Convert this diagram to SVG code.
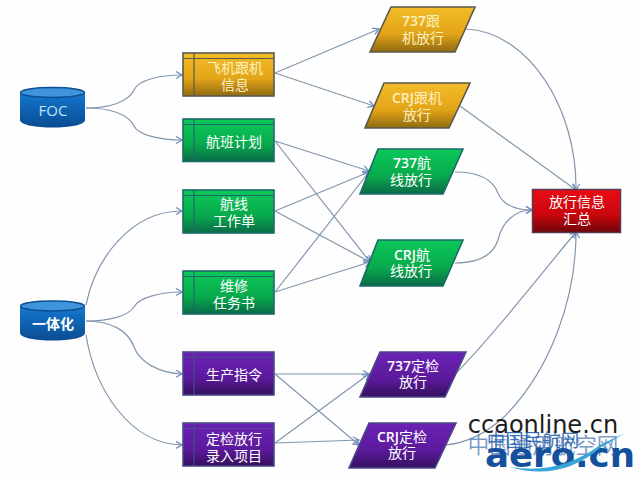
<svg xmlns="http://www.w3.org/2000/svg" width="640" height="479" viewBox="0 0 640 479">
<style>
text{font-family:"Noto Sans CJK SC","Liberation Sans",sans-serif;font-size:14px;fill:#fff;text-anchor:middle}
.lat{font-family:"Open Sans","Noto Sans CJK SC",sans-serif;font-weight:600}
.w{fill:#fdf0c0}
.c{fill:none;stroke:#8296ad;stroke-width:1.2}
.a{marker-end:url(#ar)}
.o{stroke:#5a5a4a;stroke-width:1.6}.g{stroke:#1b6b6a;stroke-width:1.6}.p{stroke:#4a4a8c;stroke-width:1.6}
.in{fill:none;stroke-width:1.2}
</style>
<defs>
<marker id="ar" markerWidth="10" markerHeight="10" refX="7" refY="4" orient="auto" markerUnits="userSpaceOnUse"><path d="M1 0.5L7 4L1 7.5" fill="none" stroke="#6f8fbd" stroke-width="1.3"/></marker>
<linearGradient id="go" x1="0" y1="0" x2="0" y2="1"><stop offset="0" stop-color="#f4bc28"/><stop offset=".6" stop-color="#e2a418"/><stop offset="1" stop-color="#8f6a10"/></linearGradient>
<linearGradient id="gg" x1="0" y1="0" x2="0" y2="1"><stop offset="0" stop-color="#0cc85a"/><stop offset=".6" stop-color="#08a94c"/><stop offset="1" stop-color="#0a6b48"/></linearGradient>
<linearGradient id="gp" x1="0" y1="0" x2="0" y2="1"><stop offset="0" stop-color="#6a22b4"/><stop offset=".6" stop-color="#5c1a9c"/><stop offset="1" stop-color="#35105e"/></linearGradient>
<linearGradient id="gr" x1="0" y1="0" x2="0" y2="1"><stop offset="0" stop-color="#ea0c14"/><stop offset=".6" stop-color="#c8060e"/><stop offset="1" stop-color="#6c0408"/></linearGradient>
<linearGradient id="gb" x1="0" y1="0" x2="0" y2="1"><stop offset="0" stop-color="#1478d0"/><stop offset="1" stop-color="#0a4c92"/></linearGradient>
</defs>
<rect width="640" height="479" fill="#fefefe"/>
<g id="connectors">
<path class="c a" d="M86 108C110 108 128 102 134 90C138 80 160 75 182 75"/>
<path class="c a" d="M86 108C110 108 128 114 134 126C138 135 160 140 182 140"/>
<path class="c a" d="M86 305C95 260 130 211 182 211"/>
<path class="c a" d="M86 321C110 321 128 316 134 307C138 298 160 292 182 292"/>
<path class="c a" d="M86 321C110 321 128 330 134 347C140 363 160 373 182 374"/>
<path class="c a" d="M86 335C95 390 130 444 182 445"/>
<path class="c a" d="M275 73L379 29"/>
<path class="c a" d="M275 73L374 106"/>
<path class="c a" d="M275 141L369 171"/>
<path class="c a" d="M275 141L370 262"/>
<path class="c a" d="M275 211L369 172"/>
<path class="c a" d="M275 211L370 262"/>
<path class="c a" d="M275 292L369 172"/>
<path class="c a" d="M275 292L370 262"/>
<path class="c a" d="M275 374L369 374"/>
<path class="c a" d="M275 374L359 445"/>
<path class="c a" d="M275 443L369 374"/>
<path class="c a" d="M275 443L359 440"/>
<path class="c a" d="M466 29C530 32 577 110 576 190"/>
<path class="c a" d="M460 106L576 190"/>
<path class="c a" d="M455 172C480 172 493 180 498 193C503 205 515 210 532 210"/>
<path class="c a" d="M455 263C480 263 493 255 498 240C502 222 515 210 532 210"/>
<path class="c a" d="M455 374C490 340 540 275 576 232"/>
<path class="c a" d="M445 445C470 443 490 430 505 416C550 370 576 300 576 232"/>
</g>
<g id="foc"><path d="M20 92V120C20 130 85 130 85 120V92Z" fill="url(#gb)"/><ellipse cx="52.500" cy="92.500" rx="32" ry="5" fill="#3f95dc" stroke="#0c4f92" stroke-width="1.500"/><text class="lat" style="font-weight:400;font-size:15px;fill:#bfe2fa" x="53" y="116">FOC</text></g>
<g id="yitihua"><path d="M20 306V333C20 343 85 343 85 333V306Z" fill="url(#gb)"/><ellipse cx="52.500" cy="306" rx="32" ry="5" fill="#3f95dc" stroke="#0c4f92" stroke-width="1.500"/><text x="53" y="329" style="font-weight:700">一体化</text></g>
<g id="n1"><rect class="o" x="183" y="53" width="91" height="43" fill="url(#go)"/><path class="in" stroke="#5a5a4a" d="M183 58.500H274M194 53V96"/><text class="w" x="235" y="73">飞机跟机</text><text class="w" x="235" y="90">信息</text></g>
<g id="n2"><rect class="g" x="183" y="119" width="91" height="42.500" fill="url(#gg)"/><path class="in" stroke="#1b6b6a" d="M183 124.500H274M194 119V161.500"/><text x="234" y="147">航班计划</text></g>
<g id="n3"><rect class="g" x="183" y="190" width="91" height="43" fill="url(#gg)"/><path class="in" stroke="#1b6b6a" d="M183 195.500H274M194 190V233"/><text x="234" y="209">航线</text><text x="234" y="226">工作单</text></g>
<g id="n4"><rect class="g" x="183" y="271" width="91" height="43" fill="url(#gg)"/><path class="in" stroke="#1b6b6a" d="M183 276.500H274M194 271V314"/><text x="234" y="291">维修</text><text x="234" y="308">任务书</text></g>
<g id="n5"><rect class="p" x="183" y="352" width="91" height="43" fill="url(#gp)"/><path class="in" stroke="#4a4a8c" d="M183 357.500H274M194 352V395"/><text x="234" y="380">生产指令</text></g>
<g id="n6"><rect class="p" x="183" y="423" width="91" height="43" fill="url(#gp)"/><path class="in" stroke="#4a4a8c" d="M183 428.500H274M194 423V466"/><text x="234" y="444">定检放行</text><text x="234" y="461">录入项目</text></g>
<g id="p1"><polygon class="o" points="391,7 475,7 455,52 370,52" fill="url(#go)"/><text class="w" x="421" y="26"><tspan class="lat">737</tspan>跟</text><text class="w" x="423" y="43">机放行</text></g>
<g id="p2"><polygon class="o" points="384,83 470,83 449,128 365,128" fill="url(#go)"/><text class="w" x="417" y="103"><tspan class="lat">CRJ</tspan>跟机</text><text class="w" x="417" y="120">放行</text></g>
<g id="p3"><polygon class="g" points="378,149 463,149 443,194 360,194" fill="url(#gg)"/><text x="412" y="168"><tspan class="lat">737</tspan>航</text><text x="411" y="185">线放行</text></g>
<g id="p4"><polygon class="g" points="378,240 463,240 443,286 360,286" fill="url(#gg)"/><text x="412" y="260"><tspan class="lat">CRJ</tspan>航</text><text x="411" y="276">线放行</text></g>
<g id="p5"><polygon class="p" points="380,352 466,352 445,397 360,397" fill="url(#gp)"/><text x="413" y="371"><tspan class="lat">737</tspan>定检</text><text x="413" y="387">放行</text></g>
<g id="p6"><polygon class="p" points="369,423 456,423 435,468 349,468" fill="url(#gp)"/><text x="402" y="442"><tspan class="lat">CRJ</tspan>定检</text><text x="402" y="458">放行</text></g>
<g id="sum"><rect x="532.500" y="189.500" width="88" height="43" fill="url(#gr)" stroke="#5a3a50" stroke-width="1.500"/><text x="577" y="207" fill="#fde0e0">放行信息</text><text x="577" y="224" fill="#fde0e0">汇总</text></g>
<g id="watermark">
<text x="543" y="433" style="font-family:'DejaVu Sans',sans-serif;font-size:24px;fill:#1c1c1c">ccaonline.cn</text>
<text x="543" y="453" style="font-size:21.500px;fill:#3f6fb0" fill-opacity=".7">中国通用航空网</text>
<text x="533" y="447" style="font-size:18.500px;fill:#1c5aa6" fill-opacity=".85">中国民航网</text>
<text x="560" y="467" style="font-family:'DejaVu Sans',sans-serif;font-size:34px;font-weight:700;fill:#15509c" textLength="150" lengthAdjust="spacingAndGlyphs">aero.cn</text>
<path d="M510 467Q560 482 600 448L625 433L600 445Q560 475 510 467Z" fill="#37a5d8"/>
</g>
</svg>
